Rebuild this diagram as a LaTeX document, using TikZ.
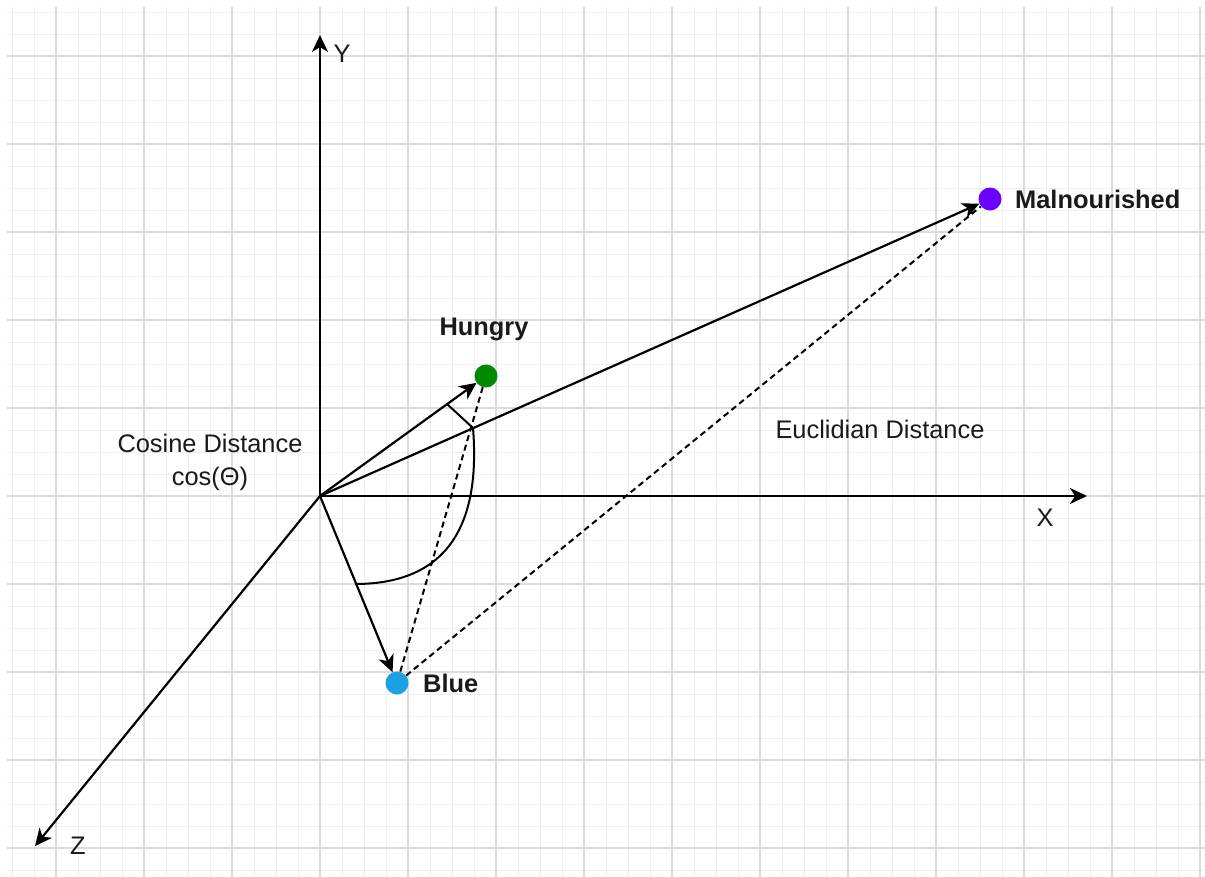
\documentclass[tikz,border=0pt]{standalone}
\usepackage{fontspec}
\setmainfont{Liberation Sans}
\usetikzlibrary{arrows.meta}
\definecolor{gmaj}{HTML}{DCDCDC}
\definecolor{gmin}{HTML}{EFEFEF}
\definecolor{hgreen}{HTML}{008A00}
\definecolor{mviolet}{HTML}{6A00FF}
\definecolor{bblue}{HTML}{1BA1E2}
\definecolor{txt}{HTML}{1A1A1A}
\begin{document}
\begin{tikzpicture}[x=1bp,y=-1bp,
 axis/.style={line width=2.2bp, -{Stealth[length=17bp,width=16bp,inset=5bp]}},
 vec/.style={axis},
 dist/.style={line width=2bp, dash pattern=on 6bp off 4bp},
 dot/.style={circle, inner sep=0pt, minimum size=23bp},
 lbl/.style={font=\fontsize{25.5}{33}\selectfont, text=txt, inner sep=0pt},
 blbl/.style={font=\fontsize{25.5}{33}\selectfont\bfseries, text=txt, inner sep=0pt},
 anglemark/.style={line width=2bp}
]
\useasboundingbox (0,0) rectangle (1205,877);
\fill[white] (0,0) rectangle (1205,877);
\begin{scope}
\clip (7,7) rectangle (1205,877);
\foreach \i in {0,...,54} {\draw[gmin, line width=1bp] (12+22*\i,0) -- (12+22*\i,877);}
\foreach \i in {0,...,39} {\draw[gmin, line width=1bp] (0,12+22*\i) -- (1205,12+22*\i);}
\foreach \i in {0,...,13} {\draw[gmaj, line width=1.5bp] (56+88*\i,0) -- (56+88*\i,877);}
\foreach \i in {0,...,9} {\draw[gmaj, line width=1.5bp] (0,56+88*\i) -- (1205,56+88*\i);}
\end{scope}

\coordinate (O) at (320,496);
\coordinate (Yend) at (320,35);
\coordinate (Xend) at (1087,496);
\coordinate (Zend) at (35,846);
\draw[axis] (O) -- (Yend);
\draw[axis] (O) -- (Xend);
\draw[axis] (O) -- (Zend);

\node[dot, fill=hgreen] (H) at (486,376) {};
\node[dot, fill=mviolet] (M) at (990,199) {};
\node[dot, fill=bblue] (B) at (397,683) {};

\draw[vec] (O) -- (H);
\draw[vec] (O) -- (M);
\draw[vec] (O) -- (B);

\draw[dist] (H) -- (B);
\draw[dist] (B) -- (M);

\coordinate (a1) at (447,404);
\coordinate (a2) at (473,428);
\coordinate (a3) at (355,584);
\draw[anglemark] (a1) -- (a2) .. controls (480,515) and (455,584) .. (a3);

\node[blbl, anchor=west] (ml) at (1015,199) {Malnourished};
\node[blbl] (hl) at (484,329) {Hungry};
\node[blbl, anchor=west] (bl) at (423,683) {Blue};
\node[lbl] (yl) at (342,54) {Y};
\node[lbl] (xl) at (1045,518) {X};
\node[lbl] (zl) at (78,846) {Z};
\node[lbl] (el) at (880,429) {Euclidian Distance};
\node[lbl, align=center] (cl) at (210,462) {Cosine Distance\\cos(Θ)};
\end{tikzpicture}
\end{document}
